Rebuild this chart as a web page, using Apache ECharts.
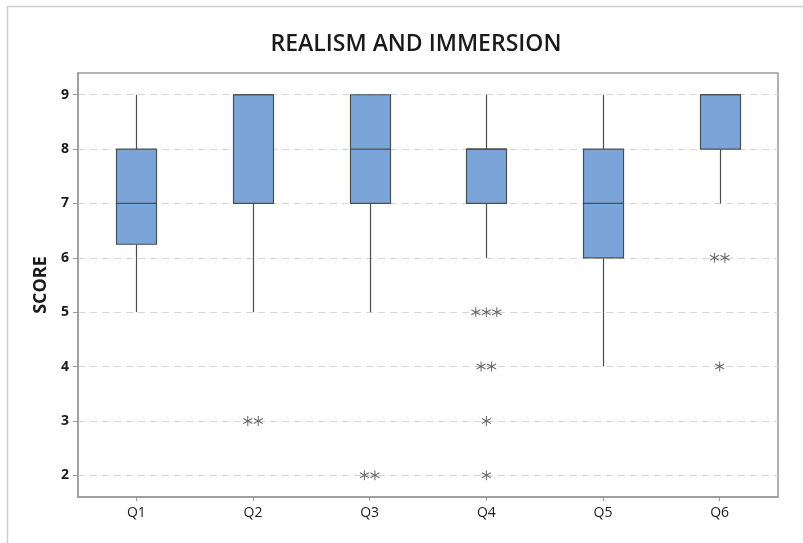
<!DOCTYPE html>
<html>
<head>
<meta charset="utf-8">
<script src="https://cdn.jsdelivr.net/npm/echarts@6/dist/echarts.min.js"></script>
<style>
  html, body { margin: 0; padding: 0; background: #fff; }
  #chart { width: 803px; height: 543px; }
</style>
</head>
<body>
<div id="chart"></div>
<script>
// Survey questions on the x axis
const categories = ['Q1', 'Q2', 'Q3', 'Q4', 'Q5', 'Q6'];

// Five-number summaries per question
const whiskerLow  = [5, 5, 5, 6, 4, 7];
const quartile1   = [6.25, 7, 7, 7, 6, 8];
const medians     = [7, 9, 8, 8, 7, 9];
const quartile3   = [8, 9, 9, 8, 8, 9];
const whiskerHigh = [9, 9, 9, 9, 9, 9];

// Outliers: [question index, score, number of responses]
const outliers = [
  [1, 3, 2],
  [2, 2, 2],
  [3, 5, 3],
  [3, 4, 2],
  [3, 3, 1],
  [3, 2, 1],
  [5, 6, 2],
  [5, 4, 1]
];

// Y axis ticks
const scoreTicks = [2, 3, 4, 5, 6, 7, 8, 9];

const FONT = '"Open Sans", "Noto Sans", sans-serif';
const BOX_FILL = '#7BA5D9';
const EDGE = '#4d4d4d';
const BOX_WIDTH = 40;
const STACK_GAP = 10.5;

const boxData = categories.map((c, i) => [i, whiskerLow[i], quartile1[i], medians[i], quartile3[i], whiskerHigh[i]]);

// Repeated outlier values are spread side by side around the category centre
const outlierPoints = [];
outliers.forEach(([cat, val, n]) => {
  for (let k = 0; k < n; k++) {
    outlierPoints.push({
      value: [cat, val],
      symbolOffset: [(k - (n - 1) / 2) * STACK_GAP, 0]
    });
  }
});

function renderBox(params, api) {
  const cat = api.value(0);
  const lo = api.coord([cat, api.value(1)]);
  const q1 = api.coord([cat, api.value(2)]);
  const md = api.coord([cat, api.value(3)]);
  const q3 = api.coord([cat, api.value(4)]);
  const hi = api.coord([cat, api.value(5)]);
  const x = Math.round(lo[0]) + 0.5;
  const half = BOX_WIDTH / 2;
  const lineStyle = { stroke: EDGE, lineWidth: 1.2 };
  return {
    type: 'group',
    children: [
      { type: 'line', shape: { x1: x, y1: lo[1], x2: x, y2: q1[1] }, style: lineStyle },
      { type: 'line', shape: { x1: x, y1: q3[1], x2: x, y2: hi[1] }, style: lineStyle },
      { type: 'rect', shape: { x: x - half, y: q3[1], width: BOX_WIDTH, height: q1[1] - q3[1] },
        style: { fill: BOX_FILL, stroke: EDGE, lineWidth: 1.2 } },
      { type: 'line', shape: { x1: x - half, y1: md[1], x2: x + half, y2: md[1] }, style: lineStyle }
    ]
  };
}

const chart = echarts.init(document.getElementById('chart'), null, { renderer: 'canvas' });

chart.setOption({
  backgroundColor: '#fff',
  animation: false,
  title: {
    text: 'REALISM AND IMMERSION',
    left: 411,
    top: 28,
    textAlign: 'center',
    textStyle: { fontFamily: FONT, fontSize: 23, fontWeight: 600, color: '#1a1a1a' }
  },
  graphic: [
    {
      type: 'polyline',
      silent: true,
      shape: { points: [[7.5, 560], [7.5, 6.5], [803, 6.5]] },
      style: { stroke: '#cfcfcf', lineWidth: 1.5, fill: null }
    }
  ],
  grid: {
    left: 78, right: 25, top: 73, bottom: 46,
    show: true,
    borderColor: '#9a9a9a',
    borderWidth: 1.5,
    backgroundColor: '#fff'
  },
  xAxis: {
    type: 'category',
    data: categories,
    boundaryGap: true,
    axisLine: { show: true, lineStyle: { color: '#9a9a9a', width: 1.5 } },
    axisTick: { show: true, alignWithLabel: true, length: 4, lineStyle: { color: '#9a9a9a' } },
    axisLabel: { fontFamily: FONT, fontSize: 14, fontWeight: 500, color: '#1a1a1a', margin: 9 },
    splitLine: { show: false }
  },
  yAxis: {
    type: 'value',
    min: 1.6,
    max: 9.4,
    interval: 1,
    name: 'SCORE',
    nameLocation: 'middle',
    nameGap: 28,
    nameRotate: 90,
    nameTextStyle: { fontFamily: FONT, fontSize: 18, fontWeight: 'bold', color: '#1a1a1a' },
    axisLine: { show: true, lineStyle: { color: '#9a9a9a', width: 1.5 } },
    axisTick: { show: true, length: 5, lineStyle: { color: '#9a9a9a' },
      customValues: scoreTicks },
    axisLabel: { fontFamily: FONT, fontSize: 14, fontWeight: 'bold', color: '#1a1a1a', margin: 9,
      customValues: scoreTicks },
    splitLine: { show: true, lineStyle: { color: '#d6d6d6', type: [7, 5], width: 1 },
      customValues: scoreTicks }
  },
  series: [
    {
      type: 'custom',
      renderItem: renderBox,
      encode: { x: 0, y: [1, 2, 3, 4, 5] },
      data: boxData,
      z: 3
    },
    {
      type: 'scatter',
      data: outlierPoints,
      symbol: 'path://M0,-5L0,5M-4.33,-2.5L4.33,2.5M-4.33,2.5L4.33,-2.5',
      symbolSize: [9, 10],
      itemStyle: { color: 'rgba(0,0,0,0)', borderColor: '#444', borderWidth: 1.1 },
      z: 4
    }
  ]
});
</script>
</body>
</html>
